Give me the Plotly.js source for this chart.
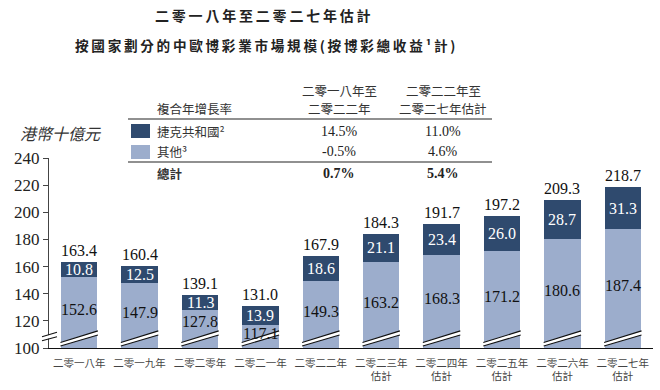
<!DOCTYPE html>
<html>
<head>
<meta charset="utf-8">
<script src="https://cdn.plot.ly/plotly-3.0.1.min.js"></script>
<style>html,body{margin:0;padding:0;background:#fff;}#chart{width:660px;height:390px;}</style>
</head>
<body>
<div id="chart"></div>
<script>
// ---- data ----
const categories = ['二零一八年','二零一九年','二零二零年','二零二一年','二零二二年',
  '二零二三年<br>估計','二零二四年<br>估計','二零二五年<br>估計','二零二六年<br>估計','二零二七年<br>估計'];
const czechValues = [10.8, 12.5, 11.3, 13.9, 18.6, 21.1, 23.4, 26.0, 28.7, 31.3];
const otherValues = [152.6, 147.9, 127.8, 117.1, 149.3, 163.2, 168.3, 171.2, 180.6, 187.4];
const totalValues = [163.4, 160.4, 139.1, 131.0, 167.9, 184.3, 191.7, 197.2, 209.3, 218.7];
const seriesNames = ['捷克共和國²', '其他³'];
const cagrHeaderLabel = '複合年增長率';
const cagrPeriodsTop = ['二零一八年至', '二零二二年至'];
const cagrPeriodsBottom = ['二零二二年', '二零二七年估計'];
const cagrCzech = ['14.5%', '11.0%'];
const cagrOther = ['-0.5%', '4.6%'];
const cagrTotalLabel = '總計';
const cagrTotal = ['0.7%', '5.4%'];
const titleLine1 = '二零一八年至二零二七年估計';
const titleLine2 = '按國家劃分的中歐博彩業市場規模(按博彩總收益¹計)';
const unitLabel = '港幣十億元';
const yTicks = [100, 120, 140, 160, 180, 200, 220, 240];

// ---- style ----
const DARK = '#2f4a6e';
const LIGHT = '#9cadcc';
const CJK = '"Noto Sans CJK TC", "Noto Sans CJK SC", sans-serif';
const SERIF = '"Liberation Serif", "DejaVu Serif", serif';
const L = 49, R = 7, T = 158, B = 42, W = 660, H = 390;
const PW = W - L - R, PH = H - T - B;
const px = x => (x - L) / PW;
const py = y => (H - B - y) / PH;
const spaced = s => s.split('').join('\u2009');

const traces = [
  {type: 'bar', name: seriesNames[1], x: categories, y: otherValues,
   marker: {color: LIGHT, line: {width: 0}}, hoverinfo: 'skip'},
  {type: 'bar', name: seriesNames[0], x: categories, y: czechValues,
   marker: {color: DARK, line: {width: 0}}, hoverinfo: 'skip'}
];

const annotations = [];
const shapes = [];
function note(x, y, text, font, xanchor) {
  annotations.push({xref: 'paper', yref: 'paper', x: px(x), y: py(y), text: text, showarrow: false,
    xanchor: xanchor || 'center', yanchor: 'middle', font: font, align: 'center'});
}

categories.forEach((c, i) => {
  annotations.push({x: c, y: totalValues[i], xref: 'x', yref: 'y', yanchor: 'bottom', yshift: 1,
    text: totalValues[i].toFixed(1), showarrow: false, font: {family: SERIF, size: 16, color: '#111'}});
  annotations.push({x: c, y: otherValues[i] + czechValues[i] / 2, xref: 'x', yref: 'y', yanchor: 'middle',
    text: czechValues[i].toFixed(1), showarrow: false, font: {family: SERIF, size: 16, color: '#fff'}});
  const o = otherValues[i];
  const ly = Math.max((o + 100) / 2 + 2, Math.min(o - 8, 120));
  annotations.push({x: c, y: ly, xref: 'x', yref: 'y', yanchor: 'middle',
    text: o.toFixed(1), showarrow: false, font: {family: SERIF, size: 16, color: '#111'}});
  // break marks on bars
  shapes.push({type: 'line', xref: 'x', yref: 'y', x0: i - 0.31, x1: i + 0.31, y0: 102.8, y1: 111.1,
    line: {color: '#fff', width: 3.6}});
  shapes.push({type: 'line', xref: 'x', yref: 'y', x0: i - 0.31, x1: i + 0.31, y0: 101.5, y1: 109.6,
    line: {color: '#111', width: 1.1}});
  shapes.push({type: 'line', xref: 'x', yref: 'y', x0: i - 0.31, x1: i + 0.31, y0: 104.1, y1: 112.6,
    line: {color: '#111', width: 1.1}});
});

// axis break mark
shapes.push({type: 'line', xref: 'paper', yref: 'paper', x0: px(42), x1: px(57), y0: py(338.7), y1: py(334.5),
  line: {color: '#fff', width: 3.4}});
shapes.push({type: 'line', xref: 'paper', yref: 'paper', x0: px(42), x1: px(57), y0: py(340.7), y1: py(336.7),
  line: {color: '#111', width: 1.1}});
shapes.push({type: 'line', xref: 'paper', yref: 'paper', x0: px(42), x1: px(57), y0: py(336.7), y1: py(332.3),
  line: {color: '#111', width: 1.1}});

// title
note(263, 15, '<b>' + spaced(titleLine1) + '</b>', {family: CJK, size: 14, color: '#222'});
note(265, 45, '<b>' + spaced(titleLine2) + '</b>', {family: CJK, size: 13.6, color: '#222'});
// unit label
note(18, 133, unitLabel, {family: CJK, size: 16, color: '#333', style: 'italic'}, 'left');

// CAGR table
const tblFont = {family: CJK, size: 12.5, color: '#333'};
const numFont = {family: SERIF, size: 14, color: '#222'};
const colX = [339, 443];
note(155, 108, cagrHeaderLabel, tblFont, 'left');
cagrPeriodsTop.forEach((p, j) => {
  note(colX[j], 90, p, tblFont);
  note(colX[j], 108, cagrPeriodsBottom[j], tblFont);
  note(colX[j], 131, cagrCzech[j], numFont);
  note(colX[j], 152, cagrOther[j], numFont);
  note(colX[j], 173, '<b>' + cagrTotal[j] + '</b>', numFont);
});
note(155, 131, seriesNames[0], tblFont, 'left');
note(155, 152, seriesNames[1], tblFont, 'left');
note(155, 173, '<b>' + cagrTotalLabel + '</b>', tblFont, 'left');
shapes.push({type: 'rect', xref: 'paper', yref: 'paper', x0: px(131), x1: px(150), y0: py(138), y1: py(124),
  fillcolor: DARK, line: {width: 0}});
shapes.push({type: 'rect', xref: 'paper', yref: 'paper', x0: px(131), x1: px(150), y0: py(159), y1: py(145),
  fillcolor: LIGHT, line: {width: 0}});
shapes.push({type: 'line', xref: 'paper', yref: 'paper', x0: px(128), x1: px(492), y0: py(119), y1: py(119),
  line: {color: '#222', width: 1.2}});
shapes.push({type: 'line', xref: 'paper', yref: 'paper', x0: px(128), x1: px(492), y0: py(162), y1: py(162),
  line: {color: '#222', width: 1.2}});

const layout = {
  width: W, height: H,
  margin: {l: L, r: R, t: T, b: B, pad: 0},
  paper_bgcolor: '#fff', plot_bgcolor: '#fff',
  barmode: 'stack', bargap: 0.4,
  showlegend: false,
  xaxis: {type: 'category', range: [-0.5, 9.5], showgrid: false, zeroline: false,
    showline: true, linecolor: '#111', linewidth: 1.2, ticks: '', ticklabelstandoff: 5,
    tickfont: {family: CJK, size: 10.5, color: '#444'}, fixedrange: true},
  yaxis: {range: [100, 240], tickvals: yTicks, ticktext: yTicks.map(String), showgrid: false, zeroline: false,
    showline: true, linecolor: '#444', linewidth: 1.2, ticks: 'outside', ticklen: 5, tickcolor: '#444',
    tickfont: {family: SERIF, size: 17, color: '#222'}, fixedrange: true},
  annotations: annotations,
  shapes: shapes,
  font: {family: CJK}
};

Plotly.newPlot('chart', traces, layout, {displayModeBar: false, staticPlot: true});
</script>
</body>
</html>
